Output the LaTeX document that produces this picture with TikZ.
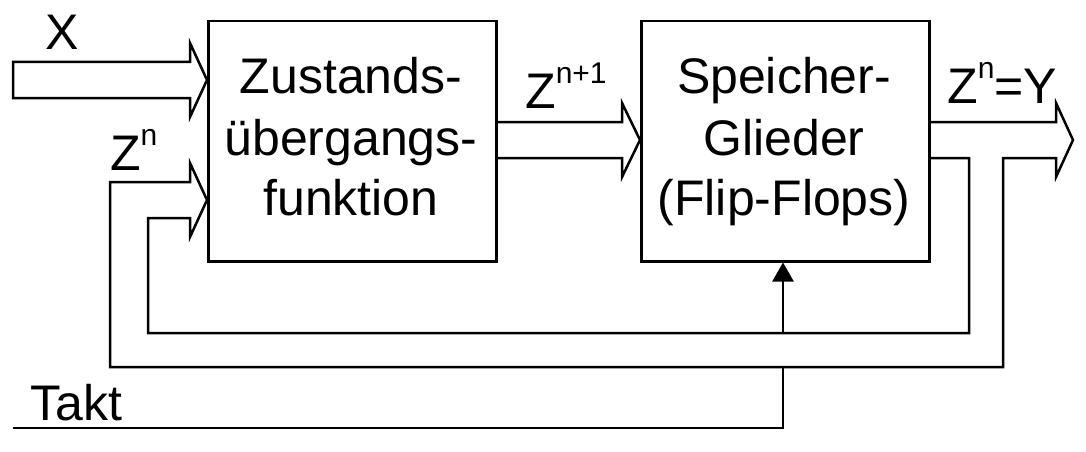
\documentclass[tikz,border=0pt]{standalone}
\usepackage{fontspec}
\setmainfont{Liberation Sans}
\usetikzlibrary{arrows.meta}
\newcommand{\bigtxt}{\fontsize{50}{61}\selectfont}
\newcommand{\supr}[1]{\raisebox{25pt}{\fontsize{30}{30}\selectfont #1}}
\tikzset{
  blk/.style={draw, line width=2.5pt, minimum width=288pt, minimum height=240pt, inner sep=0pt, anchor=north west},
  txt/.style={anchor=base, inner sep=0pt, font=\bigtxt},
  lbl/.style={anchor=base west, inner sep=0pt, font=\bigtxt},
  bus/.style={draw, line width=2.5pt, line join=miter},
  wire/.style={draw, line width=2.5pt}
}
\begin{document}
\begin{tikzpicture}[x=1pt, y=-1pt]
\useasboundingbox (0,0) rectangle (1086,452);
% blocks
\node[blk] (f) at (207,20) {};
\node[blk] (s) at (640,20) {};
% block texts
\node[txt] (f1) at (351,93) {Zustands-};
\node[txt] (f2) at (351,155) {übergangs-};
\node[txt] (f3) at (351,215) {funktion};
\node[txt] (s1) at (784,93) {Speicher-};
\node[txt] (s2) at (784,155) {Glieder};
\node[txt] (s3) at (784,215) {(Flip-Flops)};
% labels
\node[lbl] (lx) at (45,50) {X};
\node[lbl] (lzn) at (110,170) {Z\supr{n}};
\node[lbl] (lzn1) at (525,108) {Z\supr{n+1}};
\node[lbl] (ly) at (947,103) {Z\supr{n}=Y};
\node[lbl] (lt) at (30,420) {Takt};
% X input arrow
\draw[bus] (13,62) -- (190,62) -- (190,43) -- (f.west |- 0,80) -- (190,117) -- (190,98) -- (13,98) -- cycle;
% Z^{n+1} arrow
\draw[bus] (f.east |- 0,122) -- (622,122) -- (622,103) -- (s.west |- 0,140) -- (622,177) -- (622,158) -- (f.east |- 0,158);
% output arrow and feedback bus
\draw[bus] (s.east |- 0,122) -- (1056,122) -- (1056,103) -- (1073,140) -- (1056,177) -- (1056,158)
  -- (1003,158) -- (1003,367) -- (110,367) -- (110,182) -- (190,182) -- (190,163)
  -- (f.west |- 0,200) -- (190,237) -- (190,218) -- (148,218) -- (148,333)
  -- (969,333) -- (969,158) -- (s.east |- 0,158);
% clock
\coordinate (tk0) at (13,428);
\coordinate (tk1) at (783,428);
\coordinate (tk2) at (783,367);
\coordinate (tk3) at (783,333);
\draw[wire] (tk0) -- (tk1) -- (tk2);
\draw[wire, -{Triangle[length=19pt,width=21pt]}] (tk3) -- (s.south -| tk3);
\end{tikzpicture}
\end{document}
